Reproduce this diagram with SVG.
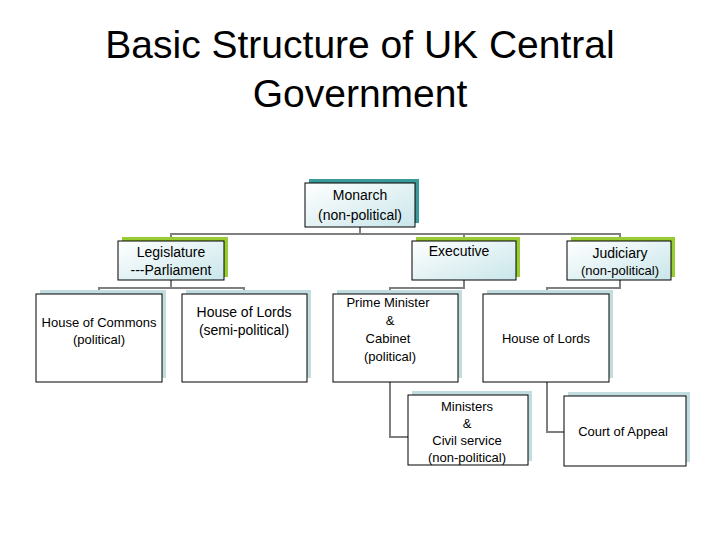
<svg xmlns="http://www.w3.org/2000/svg" width="720" height="540" viewBox="0 0 720 540">
<style>
text{font-family:"Liberation Sans",Arial,sans-serif;fill:#000;text-anchor:middle}
.t{font-size:39px}
.l{font-size:14px}
.s{font-size:13px}
.box{fill:#fff;stroke:#000;stroke-width:1}
.gb{fill:url(#g)}
.c{fill:none;stroke:#7f7f7f;stroke-width:2}
</style>
<defs>
<linearGradient id="g" x1="0" y1="0" x2="1" y2="1">
<stop offset="0" stop-color="#ffffff"/><stop offset="1" stop-color="#c9e6ea"/>
</linearGradient>
</defs>
<rect width="720" height="540" fill="#fff"/>
<text class="t" x="360" y="58">Basic Structure of UK Central</text>
<text class="t" x="360" y="107">Government</text>
<g id="connectors">
<path class="c" d="M360 227V234M171 241V234H620V241M464 234V241"/>
<path class="c" d="M171 280V288M99 294V288H244V294M464 280V288H390V294M620 280V288H547V294"/>
<path class="c" d="M390 382V437H408M547 382V432H564"/>
</g>
<g id="monarch">
<rect x="309" y="179" width="110" height="44" fill="#3a9a9a"/>
<rect class="box gb" x="305" y="183" width="110" height="44" stroke="#3a9a9a"/>
<text class="l" x="360" y="200">Monarch</text>
<text class="l" x="360" y="220">(non-political)</text>
</g>
<g id="legislature">
<rect x="122" y="237" width="106" height="40" fill="#9c3"/>
<rect class="box gb" x="118" y="241" width="106" height="39" stroke="#cce08a"/>
<text class="l" x="171" y="257">Legislature</text>
<text class="l" x="171" y="275">---Parliament</text>
</g>
<g id="executive">
<rect x="416" y="237" width="104" height="40" fill="#9c3"/>
<rect class="box gb" x="412" y="241" width="104" height="39" stroke="#cce08a"/>
<text class="l" x="459" y="256">Executive</text>
</g>
<g id="judiciary">
<rect x="571" y="237" width="104" height="40" fill="#9c3"/>
<rect class="box gb" x="567" y="241" width="104" height="39" stroke="#cce08a"/>
<text class="l" x="620" y="258">Judiciary</text>
<text class="s" x="620" y="275">(non-political)</text>
</g>
<g id="commons">
<rect x="40" y="290" width="126" height="88" fill="#c2dde0"/>
<rect class="box" x="36" y="294" width="126" height="88"/>
<text class="s" x="99" y="327">House of Commons</text>
<text class="s" x="99" y="344">(political)</text>
</g>
<g id="lords1">
<rect x="186" y="290" width="125" height="88" fill="#c2dde0"/>
<rect class="box" x="182" y="294" width="125" height="88"/>
<text class="l" x="244" y="317">House of Lords</text>
<text class="l" x="244" y="335">(semi-political)</text>
</g>
<g id="pm">
<rect x="337" y="290" width="125" height="88" fill="#c2dde0"/>
<rect class="box" x="333" y="294" width="125" height="88"/>
<text class="s" x="388" y="307">Prime Minister</text>
<text class="s" x="390" y="325">&amp;</text>
<text class="s" x="388" y="343">Cabinet</text>
<text class="s" x="390" y="361">(political)</text>
</g>
<g id="lords2">
<rect x="487" y="290" width="126" height="88" fill="#c2dde0"/>
<rect class="box" x="483" y="294" width="126" height="88"/>
<text class="s" x="546" y="343">House of Lords</text>
</g>
<g id="ministers">
<rect x="412" y="391" width="120" height="70" fill="#c2dde0"/>
<rect class="box" x="408" y="395" width="120" height="70"/>
<text class="s" x="467" y="411">Ministers</text>
<text class="s" x="467" y="428">&amp;</text>
<text class="s" x="467" y="445">Civil service</text>
<text class="s" x="467" y="462">(non-political)</text>
</g>
<g id="appeal">
<rect x="568" y="392" width="122" height="70" fill="#c2dde0"/>
<rect class="box" x="564" y="396" width="122" height="70"/>
<text class="s" x="623" y="436">Court of Appeal</text>
</g>
</svg>
